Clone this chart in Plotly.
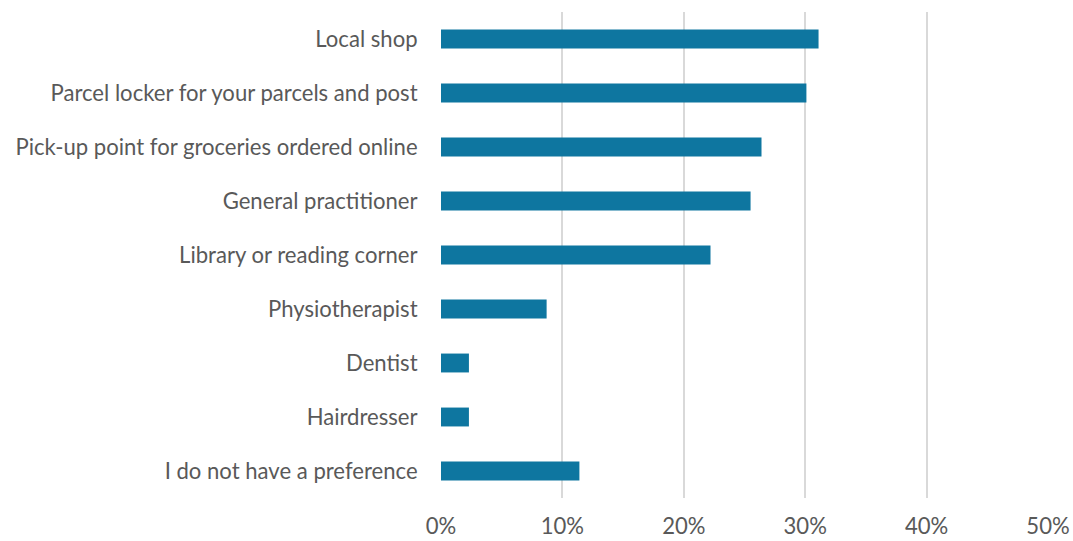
import plotly.graph_objects as go

categories = [
    "Local shop",
    "Parcel locker for your parcels and post",
    "Pick-up point for groceries ordered online",
    "General practitioner",
    "Library or reading corner",
    "Physiotherapist",
    "Dentist",
    "Hairdresser",
    "I do not have a preference",
]
shares = [0.311, 0.301, 0.264, 0.255, 0.222, 0.087, 0.023, 0.023, 0.114]
x_ticks = [0, 0.1, 0.2, 0.3, 0.4, 0.5]
x_tick_labels = ["0%", "10%", "20%", "30%", "40%", "50%"]

fig = go.Figure(
    go.Bar(
        y=categories,
        x=shares,
        orientation="h",
        marker=dict(color="#0E76A0", line=dict(width=0)),
    )
)

font_main = dict(family="Lato", size=22.1, color="#595959")

fig.update_layout(
    width=1073,
    height=541,
    margin=dict(l=441, r=25, t=12, b=43),
    paper_bgcolor="white",
    plot_bgcolor="white",
    bargap=0.65,
    showlegend=False,
    font=font_main,
)
fig.update_xaxes(
    range=[0, 0.5],
    tickvals=x_ticks,
    ticktext=x_tick_labels,
    showgrid=True,
    gridcolor="#D9D9D9",
    gridwidth=2,
    zeroline=False,
    showline=False,
    ticks="outside",
    ticklen=8,
    tickcolor="rgba(0,0,0,0)",
    tickfont=font_main,
    automargin=False,
)
fig.update_yaxes(
    categoryorder="array",
    categoryarray=categories[::-1],
    showgrid=False,
    zeroline=False,
    showline=False,
    ticks="outside",
    ticklen=18,
    tickcolor="rgba(0,0,0,0)",
    tickfont=font_main,
    automargin=False,
)

fig.write_html("out.html")
